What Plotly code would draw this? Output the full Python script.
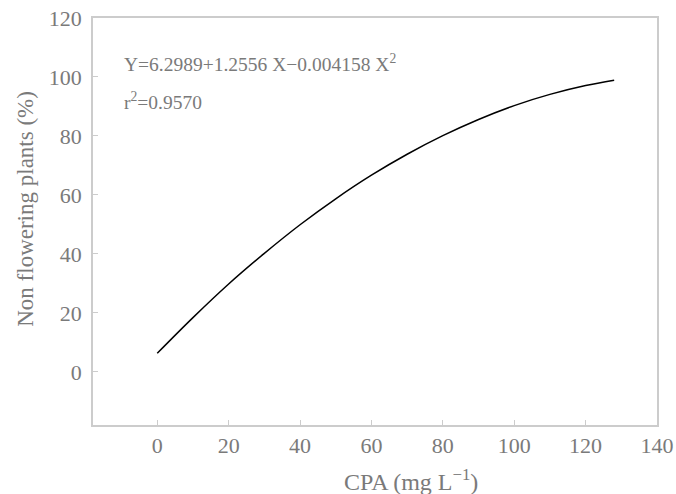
import plotly.graph_objects as go

# CPA concentration (mg/L) and non-flowering plants (%)
cpa = [0, 10, 20, 30, 40, 50, 60, 70, 80, 90, 100, 110, 120, 128]
non_flowering = [6.3, 18.4, 29.8, 40.2, 49.9, 58.7, 66.7, 73.8, 80.1, 85.6, 90.3, 94.1, 97.1, 98.9]

x_ticks = [0, 20, 40, 60, 80, 100, 120, 140]
y_ticks = [0, 20, 40, 60, 80, 100, 120]

equation_text = "Y=6.2989+1.2556 X\u22120.004158 X<sup>2</sup>"
r2_text = "r<sup>2</sup>=0.9570"
x_title = "CPA (mg L<sup>\u22121</sup>)"
y_title = "Non flowering plants (%)"

FONT = "Liberation Serif, DejaVu Serif, serif"
GRAY = "#7a7a7a"
AXIS = "#cccccc"

fig = go.Figure()
fig.add_trace(go.Scatter(x=cpa, y=non_flowering, mode="lines",
                         line=dict(color="black", width=1.5, shape="spline"),
                         showlegend=False, hoverinfo="skip"))

axis_common = dict(showgrid=False, zeroline=False, automargin=False,
                   showline=True, linecolor=AXIS, linewidth=1.5, mirror=True,
                   ticks="inside", ticklen=5, tickcolor=AXIS, tickwidth=1,
                   tickfont=dict(family=FONT, size=22, color=GRAY))

fig.update_layout(
    width=676, height=494,
    margin=dict(l=93, r=19, t=18, b=69),
    paper_bgcolor="white", plot_bgcolor="white",
    font=dict(family=FONT, color=GRAY, size=20),
    xaxis=dict(range=[-18, 140], tickvals=x_ticks, **axis_common),
    yaxis=dict(range=[-18, 120], tickvals=y_ticks, ticklabelstandoff=5, **axis_common),
    annotations=[
        dict(x=0.051, y=0.889, xref="paper", yref="paper", text=equation_text,
             showarrow=False, xanchor="left", yanchor="middle",
             font=dict(family=FONT, size=19.5, color=GRAY)),
        dict(x=0.051, y=0.796, xref="paper", yref="paper", text=r2_text,
             showarrow=False, xanchor="left", yanchor="middle",
             font=dict(family=FONT, size=19.5, color=GRAY)),
        dict(x=0.564, y=-0.135, xref="paper", yref="paper", text=x_title,
             showarrow=False, xanchor="center", yanchor="middle",
             font=dict(family=FONT, size=24, color=GRAY)),
        dict(x=-0.119, y=0.531, xref="paper", yref="paper", text=y_title,
             showarrow=False, xanchor="center", yanchor="middle", textangle=-90,
             font=dict(family=FONT, size=23, color=GRAY)),
    ],
)

fig.write_html("out.html", config={"displayModeBar": False},
               post_script="document.body.style.margin='0';document.body.style.padding='0';")
